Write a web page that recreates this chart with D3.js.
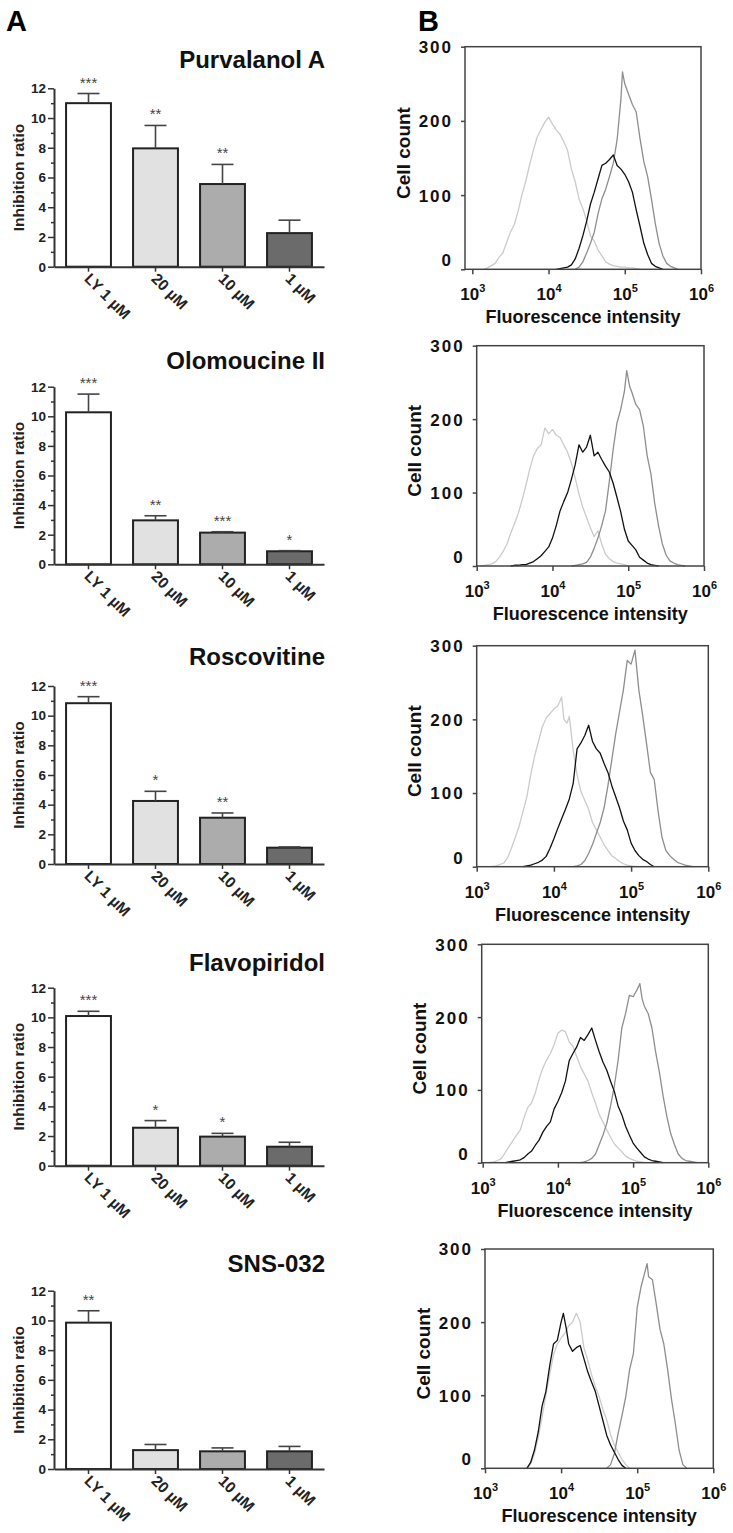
<!DOCTYPE html>
<html><head><meta charset="utf-8">
<script src="https://cdn.jsdelivr.net/npm/d3@7"></script>
<style>body{margin:0;background:#fff}</style>
</head><body>
<svg id="c" width="733" height="1533"></svg>
<script>
// ---------- DATA ----------
const barCategories = ["LY 1 µM", "20 µM", "10 µM", "1 µM"];
const drugNames = ["Purvalanol A", "Olomoucine II", "Roscovitine", "Flavopiridol", "SNS-032"];
const barYTicks = [0, 2, 4, 6, 8, 10, 12];
const barYMinorTicks = [1, 3, 5, 7, 9, 11];

const purvalanolMeans = [11.0, 7.96, 5.56, 2.26];
const purvalanolErrors = [0.65, 1.54, 1.32, 0.87];
const purvalanolStars = ["***", "**", "**", ""];

const olomoucineMeans = [10.27, 2.97, 2.14, 0.88];
const olomoucineErrors = [1.23, 0.31, 0.06, 0.04];
const olomoucineStars = ["***", "**", "***", "*"];

const roscovitineMeans = [10.84, 4.25, 3.12, 1.10];
const roscovitineErrors = [0.44, 0.65, 0.32, 0.05];
const roscovitineStars = ["***", "*", "**", ""];

const flavopiridolMeans = [10.09, 2.56, 1.96, 1.28];
const flavopiridolErrors = [0.32, 0.48, 0.22, 0.30];
const flavopiridolStars = ["***", "*", "*", ""];

const snsMeans = [9.85, 1.27, 1.19, 1.19];
const snsErrors = [0.80, 0.38, 0.23, 0.33];
const snsStars = ["**", "", "", ""];

const histYTicks = [0, 100, 200, 300];
const histXExponents = [3, 4, 5, 6];

// histogram curves: [log10(fluorescence), cell count]
const p1Light = [[3.15,0],[3.20,2],[3.25,5],[3.30,8],[3.35,16],[3.40,22],[3.45,36],[3.50,50],[3.55,60],[3.60,78],[3.65,100],[3.70,118],[3.75,140],[3.80,160],[3.85,178],[3.90,188],[3.95,198],[4.00,205],[4.05,196],[4.10,188],[4.15,182],[4.20,172],[4.25,160],[4.30,135],[4.35,118],[4.40,95],[4.45,82],[4.50,66],[4.55,45],[4.60,38],[4.65,26],[4.70,18],[4.75,10],[4.80,7],[4.85,5],[4.90,4],[4.95,3],[5.00,3],[5.05,2],[5.10,2],[5.15,1],[5.20,0]];
const p1Mid = [[4.35,0],[4.40,3],[4.45,10],[4.50,22],[4.55,35],[4.60,50],[4.65,75],[4.70,95],[4.75,108],[4.80,125],[4.85,143],[4.90,175],[4.95,230],[4.97,266],[5.00,250],[5.05,236],[5.10,222],[5.15,212],[5.20,176],[5.25,145],[5.30,125],[5.35,95],[5.40,62],[5.45,35],[5.50,18],[5.55,8],[5.60,4],[5.65,2],[5.70,0]];
const p1Black = [[4.10,0],[4.15,1],[4.20,2],[4.25,3],[4.30,6],[4.35,14],[4.40,28],[4.45,45],[4.50,65],[4.55,88],[4.60,104],[4.65,122],[4.70,140],[4.75,143],[4.80,148],[4.85,154],[4.90,140],[4.95,135],[5.00,128],[5.05,118],[5.10,104],[5.15,80],[5.20,58],[5.25,35],[5.30,20],[5.35,8],[5.40,4],[5.45,2],[5.50,0]];

const p2Light = [[3.05,0],[3.10,1],[3.15,2],[3.20,3],[3.25,6],[3.30,12],[3.35,20],[3.40,30],[3.45,45],[3.50,58],[3.55,72],[3.60,90],[3.65,110],[3.70,132],[3.75,150],[3.80,160],[3.85,165],[3.90,188],[3.95,180],[4.00,186],[4.05,178],[4.10,175],[4.15,165],[4.20,155],[4.25,140],[4.30,120],[4.35,98],[4.40,80],[4.45,66],[4.50,52],[4.55,40],[4.60,48],[4.65,30],[4.70,16],[4.75,10],[4.80,6],[4.85,4],[4.90,3],[4.95,2],[5.00,0]];
const p2Mid = [[4.25,0],[4.30,1],[4.35,2],[4.40,3],[4.45,5],[4.50,12],[4.55,24],[4.60,38],[4.65,55],[4.70,75],[4.75,115],[4.80,158],[4.85,194],[4.90,213],[4.95,238],[4.98,266],[5.02,244],[5.05,236],[5.10,220],[5.15,213],[5.20,190],[5.25,150],[5.30,125],[5.35,85],[5.40,55],[5.45,30],[5.50,15],[5.55,7],[5.60,4],[5.65,2],[5.70,1],[5.75,0]];
const p2Black = [[3.45,0],[3.50,1],[3.55,1],[3.60,2],[3.65,2],[3.70,4],[3.75,6],[3.80,10],[3.85,14],[3.90,20],[3.95,26],[4.00,38],[4.05,55],[4.10,75],[4.15,88],[4.20,100],[4.25,118],[4.30,138],[4.35,165],[4.40,155],[4.45,162],[4.50,178],[4.55,150],[4.60,155],[4.65,145],[4.70,136],[4.75,128],[4.80,113],[4.85,94],[4.90,74],[4.95,50],[5.00,34],[5.05,28],[5.10,22],[5.15,12],[5.20,8],[5.25,4],[5.30,2],[5.35,1],[5.40,0]];

const p3Light = [[3.20,0],[3.25,1],[3.30,3],[3.35,5],[3.40,12],[3.45,25],[3.50,40],[3.55,55],[3.60,75],[3.65,95],[3.70,125],[3.75,150],[3.80,170],[3.85,190],[3.90,202],[3.95,208],[4.00,214],[4.05,218],[4.10,230],[4.13,200],[4.17,195],[4.20,204],[4.25,158],[4.30,125],[4.35,102],[4.40,90],[4.45,78],[4.50,60],[4.55,50],[4.60,40],[4.65,30],[4.70,22],[4.75,15],[4.80,11],[4.85,7],[4.90,4],[4.95,2],[5.00,1],[5.05,0]];
const p3Mid = [[4.25,0],[4.30,1],[4.35,3],[4.40,8],[4.45,18],[4.50,30],[4.55,45],[4.60,60],[4.65,80],[4.70,110],[4.75,145],[4.80,180],[4.85,210],[4.90,240],[4.95,280],[5.00,275],[5.05,294],[5.10,240],[5.15,205],[5.20,167],[5.25,128],[5.30,118],[5.35,75],[5.40,40],[5.45,22],[5.50,15],[5.55,10],[5.60,6],[5.65,4],[5.70,2],[5.75,1],[5.80,0]];
const p3Black = [[3.60,0],[3.65,1],[3.70,2],[3.75,4],[3.80,6],[3.85,9],[3.90,14],[3.95,25],[4.00,38],[4.05,52],[4.10,65],[4.15,78],[4.20,92],[4.25,113],[4.30,160],[4.35,168],[4.40,178],[4.45,192],[4.50,170],[4.55,160],[4.60,154],[4.65,140],[4.70,128],[4.75,110],[4.80,95],[4.85,80],[4.90,62],[4.95,50],[5.00,32],[5.05,22],[5.10,15],[5.15,10],[5.20,7],[5.25,3],[5.30,0]];

const p4Light = [[3.10,0],[3.15,1],[3.20,3],[3.25,6],[3.30,14],[3.35,22],[3.40,30],[3.45,38],[3.50,45],[3.55,62],[3.60,76],[3.65,82],[3.70,96],[3.75,115],[3.80,130],[3.85,141],[3.90,150],[3.95,162],[4.00,178],[4.05,182],[4.10,180],[4.15,166],[4.20,160],[4.25,146],[4.30,132],[4.35,122],[4.40,112],[4.45,96],[4.50,82],[4.55,66],[4.60,56],[4.65,45],[4.70,35],[4.75,26],[4.80,20],[4.85,15],[4.90,9],[4.95,6],[5.00,4],[5.05,2],[5.10,1],[5.15,0]];
const p4Mid = [[4.30,0],[4.35,1],[4.40,3],[4.45,6],[4.50,12],[4.55,25],[4.60,38],[4.65,54],[4.70,78],[4.75,105],[4.80,140],[4.85,185],[4.90,205],[4.95,230],[5.00,228],[5.05,237],[5.09,246],[5.12,225],[5.15,215],[5.20,205],[5.25,185],[5.30,152],[5.35,124],[5.40,91],[5.45,63],[5.50,40],[5.55,25],[5.60,12],[5.65,6],[5.70,3],[5.75,2],[5.80,1],[5.85,0]];
const p4Black = [[3.30,0],[3.35,1],[3.40,2],[3.45,3],[3.50,4],[3.55,7],[3.60,12],[3.65,16],[3.70,24],[3.75,31],[3.80,42],[3.85,50],[3.90,56],[3.95,74],[4.00,84],[4.05,96],[4.10,112],[4.15,140],[4.20,150],[4.25,159],[4.30,172],[4.35,168],[4.40,176],[4.45,185],[4.50,168],[4.55,152],[4.60,138],[4.65,127],[4.70,112],[4.75,98],[4.80,78],[4.85,66],[4.90,50],[4.95,38],[5.00,27],[5.05,20],[5.10,14],[5.15,8],[5.20,5],[5.25,3],[5.30,2],[5.35,1],[5.40,0]];

const p5Light = [[3.55,0],[3.60,6],[3.65,20],[3.70,42],[3.75,70],[3.80,100],[3.85,128],[3.90,155],[3.95,170],[4.00,178],[4.05,185],[4.10,195],[4.15,200],[4.20,212],[4.25,200],[4.30,165],[4.35,148],[4.40,128],[4.45,112],[4.50,98],[4.55,80],[4.60,66],[4.65,46],[4.70,32],[4.75,22],[4.80,12],[4.85,5],[4.90,0]];
const p5Mid = [[4.60,0],[4.65,5],[4.70,20],[4.75,48],[4.80,72],[4.85,98],[4.90,135],[4.95,157],[5.00,220],[5.05,248],[5.10,268],[5.13,280],[5.15,262],[5.20,258],[5.25,225],[5.30,190],[5.35,170],[5.40,135],[5.45,95],[5.50,62],[5.55,25],[5.60,5],[5.65,0]];
const p5Black = [[3.55,0],[3.60,8],[3.65,25],[3.70,50],[3.75,85],[3.80,105],[3.85,140],[3.90,170],[3.95,175],[4.00,200],[4.03,212],[4.07,190],[4.10,170],[4.15,160],[4.20,165],[4.25,168],[4.30,150],[4.35,132],[4.40,118],[4.45,105],[4.50,85],[4.55,65],[4.60,45],[4.65,32],[4.70,22],[4.75,12],[4.80,4],[4.85,0]];

// ---------- LAYOUT ----------
const FONT = "'Liberation Sans', Arial, Helvetica, sans-serif";
const svg = d3.select("#c");
svg.append("rect").attr("width", 733).attr("height", 1533).attr("fill", "#fff");

const barSets = [
  {means: purvalanolMeans, errs: purvalanolErrors, stars: purvalanolStars},
  {means: olomoucineMeans, errs: olomoucineErrors, stars: olomoucineStars},
  {means: roscovitineMeans, errs: roscovitineErrors, stars: roscovitineStars},
  {means: flavopiridolMeans, errs: flavopiridolErrors, stars: flavopiridolStars},
  {means: snsMeans, errs: snsErrors, stars: snsStars}
];
const barLayout = [
  {y0: 266.7, y12: 88.3, title: 68},
  {y0: 564.3, y12: 386.7, title: 369},
  {y0: 864, y12: 686, title: 665},
  {y0: 1165.7, y12: 987.7, title: 970.7},
  {y0: 1469, y12: 1290.7, title: 1272}
];
const barFills = ["#ffffff", "#e1e1e1", "#acacac", "#6b6b6b"];

const histSets = [
  [p1Light, p1Mid, p1Black],
  [p2Light, p2Mid, p2Black],
  [p3Light, p3Mid, p3Black],
  [p4Light, p4Mid, p4Black],
  [p5Light, p5Mid, p5Black]
];
const histLayout = [
  {left: 465, right: 701, top: 46.7, bottom: 269.3, x3: 472.3, x6: 701},
  {left: 476.7, right: 704, top: 345.7, bottom: 566, x3: 476.7, x6: 704},
  {left: 476.7, right: 708.3, top: 645.7, bottom: 866.7, x3: 476.7, x6: 708.3},
  {left: 481.7, right: 708.3, top: 944.3, bottom: 1162.7, x3: 482.7, x6: 708.3},
  {left: 485, right: 713.3, top: 1249, bottom: 1468.3, x3: 485, x6: 713.3}
];
const curveColors = ["#cbcbcb", "#8e8e8e", "#111111"];

// panel letters
svg.append("text").attr("x", 6).attr("y", 31).attr("font-family", FONT).attr("font-weight", "bold")
  .attr("font-size", 29).text("A");
svg.append("text").attr("x", 418).attr("y", 31).attr("font-family", FONT).attr("font-weight", "bold")
  .attr("font-size", 29).text("B");

// ---------- BAR PANELS ----------
barLayout.forEach((L, i) => {
  const d = barSets[i];
  const g = svg.append("g");
  const x = d3.scaleBand().domain(barCategories).range([54, 324]).paddingInner(0.33).paddingOuter(0.18);
  const y = d3.scaleLinear().domain([0, 12]).range([L.y0, L.y12]);
  const bw = x.bandwidth();

  g.append("text").attr("x", 325).attr("y", L.title).attr("text-anchor", "end")
    .attr("font-family", FONT).attr("font-weight", "bold").attr("font-size", 24).attr("fill", "#111")
    .text(drugNames[i]);

  g.selectAll("rect.bar").data(d.means).enter().append("rect")
    .attr("x", (v, j) => x(barCategories[j])).attr("width", bw)
    .attr("y", v => y(v)).attr("height", v => L.y0 - y(v))
    .attr("fill", (v, j) => barFills[j]).attr("stroke", "#222").attr("stroke-width", 2);

  d.means.forEach((v, j) => {
    const cx = x(barCategories[j]) + bw / 2;
    const top = y(v + d.errs[j]);
    g.append("line").attr("x1", cx).attr("x2", cx).attr("y1", y(v)).attr("y2", top)
      .attr("stroke", "#444").attr("stroke-width", 1.6);
    g.append("line").attr("x1", cx - 11).attr("x2", cx + 11).attr("y1", top).attr("y2", top)
      .attr("stroke", "#444").attr("stroke-width", 1.6);
    if (d.stars[j]) {
      g.append("text").attr("x", cx).attr("y", top - 6).attr("text-anchor", "middle")
        .attr("font-family", FONT).attr("font-size", 15).attr("fill", "#444").text(d.stars[j]);
    }
  });

  const ya = g.append("g").attr("transform", "translate(54,0)")
    .call(d3.axisLeft(y).tickValues(barYTicks).tickSize(6).tickSizeOuter(0).tickPadding(2));
  g.append("g").attr("transform", "translate(54,0)")
    .call(d3.axisLeft(y).tickValues(barYMinorTicks).tickSize(3).tickFormat(""))
    .call(s => s.select(".domain").remove());
  ya.select(".domain").attr("stroke", "#333").attr("stroke-width", 2);
  ya.selectAll(".tick text").attr("font-family", FONT).attr("font-weight", "bold").attr("font-size", 13.5).attr("fill", "#222");
  g.selectAll(".tick line").attr("stroke", "#333").attr("stroke-width", 1.5);

  const xa = g.append("g").attr("transform", `translate(0,${L.y0})`)
    .call(d3.axisBottom(x).tickSize(5).tickSizeOuter(0));
  xa.select(".domain").attr("stroke", "#333").attr("stroke-width", 2);
  xa.selectAll(".tick line").attr("stroke", "#333").attr("stroke-width", 1.5);
  xa.selectAll(".tick text").attr("font-family", FONT).attr("font-weight", "bold").attr("font-size", 15.5)
    .attr("fill", "#222").attr("text-anchor", "start").attr("x", 0).attr("y", 0).attr("dy", 0)
    .attr("transform", "translate(-5,13) rotate(45)");

  g.append("text").attr("transform", `translate(19,${(L.y0 + L.y12) / 2}) rotate(-90)`)
    .attr("text-anchor", "middle").attr("dy", "0.35em")
    .attr("font-family", FONT).attr("font-weight", "bold").attr("font-size", 15.5).attr("fill", "#222")
    .text("Inhibition ratio");
});

// ---------- HISTOGRAM PANELS ----------
histLayout.forEach((L, i) => {
  const g = svg.append("g");
  const xs = d3.scaleLinear().domain([3, 6]).range([L.x3, L.x6]);
  const ys = d3.scaleLinear().domain([0, 300]).range([L.bottom, L.top]);

  const line = d3.line().x(p => xs(p[0])).y(p => ys(p[1])).curve(d3.curveLinear);
  histSets[i].forEach((c, k) => {
    g.append("path").datum(c).attr("d", line).attr("fill", "none")
      .attr("stroke", curveColors[k]).attr("stroke-width", 1.3).attr("stroke-linejoin", "round");
  });

  g.append("rect").attr("x", L.left).attr("y", L.top).attr("width", L.right - L.left)
    .attr("height", L.bottom - L.top).attr("fill", "none").attr("stroke", "#444").attr("stroke-width", 1.5);

  const ya = g.append("g").attr("transform", `translate(${L.left},0)`)
    .call(d3.axisLeft(ys).tickValues(histYTicks).tickSize(4).tickPadding(8));
  ya.select(".domain").remove();
  ya.selectAll(".tick line").attr("stroke", "#444").attr("stroke-width", 1.5);
  ya.selectAll(".tick text").attr("font-family", FONT).attr("font-weight", "bold").attr("font-size", 17)
    .attr("letter-spacing", 2).attr("fill", "#111").attr("dy", v => v === 0 ? "-0.2em" : "0.35em");

  const xa = g.append("g").attr("transform", `translate(0,${L.bottom})`)
    .call(d3.axisBottom(xs).tickValues(histXExponents).tickSize(5).tickFormat(""));
  xa.select(".domain").remove();
  xa.selectAll(".tick line").attr("stroke", "#444").attr("stroke-width", 1.5);
  xa.selectAll(".tick").append("text").attr("y", 31).attr("text-anchor", "middle")
    .attr("font-family", FONT).attr("font-weight", "bold").attr("font-size", 17).attr("fill", "#111")
    .each(function(e) {
      const t = d3.select(this);
      t.append("tspan").text("10");
      t.append("tspan").attr("dy", -8).attr("font-size", 11).text(e);
    });

  g.append("text").attr("x", (L.left + L.right) / 2).attr("y", L.bottom + 54).attr("text-anchor", "middle")
    .attr("font-family", FONT).attr("font-weight", "bold").attr("font-size", 18).attr("fill", "#111")
    .text("Fluorescence intensity");

  g.append("text").attr("transform", `translate(${L.left - 62},${(L.top + L.bottom) / 2 - 5}) rotate(-90)`)
    .attr("text-anchor", "middle").attr("dy", "0.35em")
    .attr("font-family", FONT).attr("font-weight", "bold").attr("font-size", 19).attr("fill", "#111")
    .text("Cell count");
});
</script>
</body></html>
